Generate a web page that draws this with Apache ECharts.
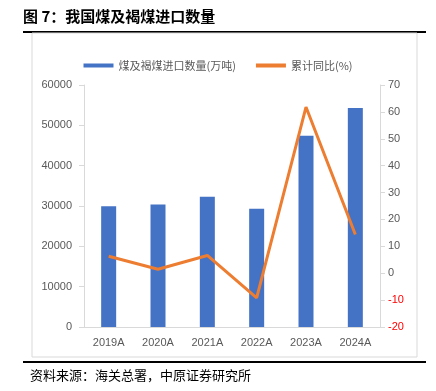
<!DOCTYPE html>
<html>
<head>
<meta charset="utf-8">
<script src="https://cdn.jsdelivr.net/npm/echarts@6/dist/echarts.min.js"></script>
<style>
html,body{margin:0;padding:0;background:#fff;}
#main{width:436px;height:391px;}
</style>
</head>
<body>
<div id="main"></div>
<script>
// 数据
var years = ['2019A', '2020A', '2021A', '2022A', '2023A', '2024A'];
var importVol = [29967, 30399, 32322, 29320, 47442, 54270];   // 万吨
var yoyPct = [6.3, 1.5, 6.6, -9.2, 61.8, 14.4];               // %
var leftTicks = [0, 60000, 10000];
var rightTicks = [-20, 70, 10];

var cjk = '"Noto Sans CJK SC", sans-serif';
var myChart = echarts.init(document.getElementById('main'));
var option = {
	animation: false,
	grid: {left: 84, right: 56, top: 85, bottom: 64},
	legend: {
		top: 55, left: 'center', itemGap: 20,
		textStyle: {color: '#595959', fontSize: 11, fontFamily: cjk},
		data: [
			{name: '煤及褐煤进口数量(万吨)', icon: 'rect', itemStyle: {color: '#4472c4'}},
			{name: '累计同比(%)', icon: 'rect', itemStyle: {color: '#ed7d31'}}
		],
		itemWidth: 30, itemHeight: 4
	},
	xAxis: {
		type: 'category', data: years,
		axisLine: {lineStyle: {color: '#d9d9d9'}},
		axisTick: {show: false},
		axisLabel: {color: '#595959', fontSize: 11, margin: 10}
	},
	yAxis: [{
		type: 'value', min: leftTicks[0], max: leftTicks[1], interval: leftTicks[2],
		splitLine: {show: false},
		axisLine: {show: true, lineStyle: {color: '#d9d9d9'}},
		axisTick: {show: true, length: 5, lineStyle: {color: '#d9d9d9'}},
		axisLabel: {color: '#595959', fontSize: 11, margin: 12, formatter: function(v) { return String(v); }}
	}, {
		type: 'value', min: rightTicks[0], max: rightTicks[1], interval: rightTicks[2],
		splitLine: {show: false},
		axisLine: {show: true, lineStyle: {color: '#d9d9d9'}},
		axisTick: {show: true, length: 5, lineStyle: {color: '#d9d9d9'}},
		axisLabel: {
			fontSize: 11, margin: 8,
			color: function(v) { return v < 0 ? '#ff0000' : '#595959'; }
		}
	}],
	series: [{
		name: '煤及褐煤进口数量(万吨)', type: 'bar', data: importVol,
		barWidth: 15, itemStyle: {color: '#4472c4'}
	}, {
		name: '累计同比(%)', type: 'line', yAxisIndex: 1, data: yoyPct,
		symbol: 'none', lineStyle: {color: '#ed7d31', width: 3},
		itemStyle: {color: '#ed7d31'}
	}],
	graphic: [
		{type: 'text', left: 23, top: 9, style: {text: '图 7：我国煤及褐煤进口数量', font: 'bold 15px ' + cjk, fill: '#000'}},
		{type: 'line', shape: {x1: 23, y1: 32, x2: 426, y2: 32}, style: {stroke: '#000', lineWidth: 2}},
		{type: 'rect', shape: {x: 32, y: 33, width: 385, height: 324}, style: {fill: 'none', stroke: '#d9d9d9', lineWidth: 1}},
		{type: 'line', shape: {x1: 23, y1: 362, x2: 426, y2: 362}, style: {stroke: '#000', lineWidth: 2}},
		{type: 'text', left: 30, top: 369, style: {text: '资料来源：海关总署，中原证券研究所', font: '13px ' + cjk, fill: '#000'}}
	]
};
myChart.setOption(option);
</script>
</body>
</html>
